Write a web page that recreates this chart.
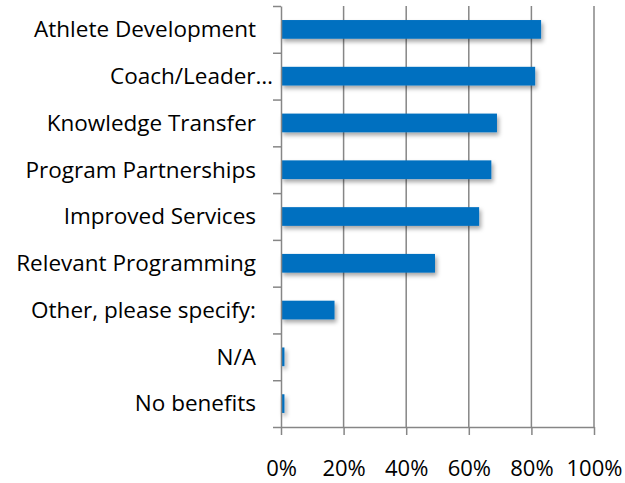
<!DOCTYPE html>
<html>
<head>
<meta charset="utf-8">
<script src="https://cdn.jsdelivr.net/npm/d3@7"></script>
<style>
  body { margin: 0; background: #fff; }
  text { font-family: 'Open Sans', sans-serif; fill: #000; }
</style>
</head>
<body>
<div id="chart"></div>
<script>
const categories = [
  'Athlete Development',
  'Coach/Leader…',
  'Knowledge Transfer',
  'Program Partnerships',
  'Improved Services',
  'Relevant Programming',
  'Other, please specify:',
  'N/A',
  'No benefits',
]
const values = [0.831, 0.812, 0.69, 0.672, 0.633, 0.492, 0.171, 0.011, 0.011]
const xTicks = [0, 0.2, 0.4, 0.6, 0.8, 1]

const width = 625
const height = 483
const margin = { top: 6, right: 31, bottom: 56, left: 281 }
const gridColor = '#868686'
const fontSize = 22.5

const svg = d3
  .select('#chart')
  .append('svg')
  .attr('width', width)
  .attr('height', height)

const defs = svg.append('defs')
defs
  .append('filter')
  .attr('id', 'shadow')
  .attr('x', '-10%')
  .attr('y', '-30%')
  .attr('width', '130%')
  .attr('height', '180%')
  .append('feDropShadow')
  .attr('dx', 2)
  .attr('dy', 3)
  .attr('stdDeviation', 2)
  .attr('flood-color', '#000')
  .attr('flood-opacity', 0.35)

const x = d3
  .scaleLinear()
  .domain([0, 1])
  .range([margin.left, width - margin.right])

const y = d3
  .scaleBand()
  .domain(categories)
  .range([margin.top, height - margin.bottom])
  .paddingInner(0.6)
  .paddingOuter(0.3)

// boundaries between categories, for the y axis ticks
const yEdge = d3
  .scaleLinear()
  .domain([0, categories.length])
  .range([margin.top, height - margin.bottom])

// gridlines
svg
  .append('g')
  .selectAll('line')
  .data(xTicks.slice(1))
  .join('line')
  .attr('x1', d => x(d))
  .attr('x2', d => x(d))
  .attr('y1', margin.top)
  .attr('y2', height - margin.bottom)
  .attr('stroke', gridColor)
  .attr('stroke-width', 1.5)

// bars
svg
  .append('g')
  .attr('filter', 'url(#shadow)')
  .selectAll('rect')
  .data(values)
  .join('rect')
  .attr('x', x(0))
  .attr('y', (d, i) => y(categories[i]))
  .attr('width', d => x(d) - x(0))
  .attr('height', y.bandwidth())
  .attr('fill', '#0070C0')

// x axis
svg
  .append('g')
  .attr('transform', `translate(0,${height - margin.bottom})`)
  .call(
    d3
      .axisBottom(x)
      .tickValues(xTicks)
      .tickSize(8)
      .tickSizeOuter(0)
      .tickFormat(d3.format('.0%'))
      .tickPadding(25)
  )
  .call(g => g.select('.domain').attr('stroke', gridColor).attr('stroke-width', 1.5))
  .call(g => g.selectAll('.tick line').attr('stroke', gridColor).attr('stroke-width', 1.5))
  .call(g => g.selectAll('text').attr('font-size', 22).attr('fill', '#000'))

// y axis
svg
  .append('g')
  .attr('transform', `translate(${margin.left},0)`)
  .call(
    d3
      .axisLeft(yEdge)
      .tickValues(d3.range(categories.length + 1))
      .tickSize(8)
      .tickSizeOuter(0)
      .tickFormat(() => null)
  )
  .call(g => g.select('.domain').attr('stroke', gridColor).attr('stroke-width', 1.5))
  .call(g => g.selectAll('.tick line').attr('stroke', gridColor).attr('stroke-width', 1.5))

// category labels
svg
  .append('g')
  .selectAll('text')
  .data(categories)
  .join('text')
  .attr('x', d => (d.endsWith('…') ? margin.left - 8 : margin.left - 25))
  .attr('y', d => y(d) + y.bandwidth() / 2)
  .attr('dy', '0.35em')
  .attr('text-anchor', 'end')
  .attr('font-size', fontSize)
  .text(d => d)
</script>
</body>
</html>
